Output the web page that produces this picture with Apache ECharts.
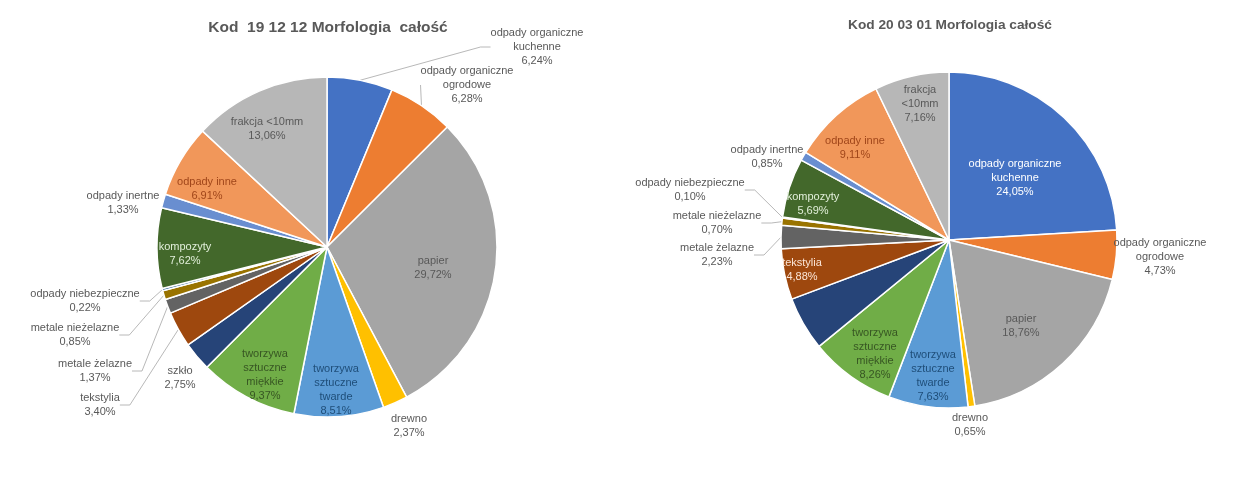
<!DOCTYPE html>
<html>
<head>
<meta charset="utf-8">
<script src="https://cdn.jsdelivr.net/npm/echarts@6/dist/echarts.min.js"></script>
<style>html,body{margin:0;padding:0;background:#fff}#c{width:1247px;height:481px}</style>
</head>
<body>
<div id="c"></div>
<script>
// ---- data ----
const categories = ['odpady organiczne kuchenne','odpady organiczne ogrodowe','papier','drewno',
  'tworzywa sztuczne twarde','tworzywa sztuczne miękkie','szkło','tekstylia','metale żelazne',
  'metale nieżelazne','odpady niebezpieczne','kompozyty','odpady inertne','odpady inne','frakcja <10mm'];
const values191212 = [6.24,6.28,29.72,2.37,8.51,9.37,2.75,3.40,1.37,0.85,0.22,7.62,1.33,6.91,13.06];
const values200301 = [24.05,4.73,18.76,0.65,7.63,8.26,5.20,4.88,2.23,0.70,0.10,5.69,0.85,9.11,7.16];
const titles = ['Kod  19 12 12 Morfologia  całość','Kod 20 03 01 Morfologia całość'];

// ---- styles / layout ----
const colors = ['#4472C4','#ED7D31','#A5A5A5','#FFC000','#5B9BD5','#70AD47','#264478','#9E480E',
  '#636363','#997300','#255E91','#43682B','#698ED0','#F1975A','#B7B7B7'];
const G = '#595959';
// per chart label config: [x, y, showLine, textColor, wrap]  (wrap: 0 none, 1 last space, 2 all spaces)
const leftLabels = [
  [537,47,true,G,1],[467,85,true,G,1],[433,268,false,G,0],[409,426,false,G,0],
  [336,390,false,'#1F4E79',2],[265,375,false,'#375623',2],[180,378,false,G,0],[100,405,true,G,0],
  [95,371,true,G,0],[75,335,true,G,0],[85,301,true,G,0],[185,254,false,'#E2EFDA',0],
  [123,203,false,G,0],[207,189,false,'#A0461A',0],[267,129,false,G,0]];
const rightLabels = [
  [1015,178,false,'#FFFFFF',1],[1160,257,false,G,1],[1021,326,false,G,0],[970,425,false,G,0],
  [933,376,false,'#1F4E79',2],[875,354,false,'#375623',2],null,[802,270,false,'#FBE5D6',0],
  [717,255,true,G,0],[717,223,true,G,0],[690,190,true,G,0],[813,204,false,'#E2EFDA',0],
  [767,157,false,G,0],[855,148,false,'#A0461A',0],[920,104,false,G,2]];

function wrapName(n, mode){
  if (mode === 2) return n.split(' ').join('\n');
  if (mode === 1){ const i = n.lastIndexOf(' '); return n.slice(0,i) + '\n' + n.slice(i+1); }
  return n;
}
function fmt(v){ return v.toFixed(2).replace('.', ',') + '%'; }

function buildData(values, cfg){
  return values.map((v,i) => {
    const c = cfg[i];
    const item = { name: categories[i], value: v, itemStyle: { color: colors[i] } };
    if (!c){ item.label = { show:false }; item.labelLine = { show:false }; return item; }
    item.label = { show:true, position: c[2] ? 'outside' : 'inside', color: c[3],
      formatter: wrapName(categories[i], c[4]) + '\n' + fmt(v) };
    item.labelLine = { show: c[2] };
    return item;
  });
}
const cfgs = [leftLabels, rightLabels];
function layoutFor(si){
  return function(p){
    const c = cfgs[si][p.dataIndex];
    if (!c) return {};
    return { x: c[0], y: c[1], align:'center', verticalAlign:'middle' };
  };
}

const font = '"Liberation Sans", Arial, sans-serif';
const baseSeries = {
  type:'pie', startAngle:90, clockwise:true, avoidLabelOverlap:false,
  itemStyle:{ borderColor:'#fff', borderWidth:1.5 },
  label:{ fontSize:11, lineHeight:14, fontFamily:font, align:'center' },
  labelLine:{ lineStyle:{ color:'#A6A6A6', width:0.8 }, length:10, length2:10 },
  emphasis:{ disabled:true }, animation:false
};

const chart = echarts.init(document.getElementById('c'));
chart.setOption({
  animation:false,
  title:[
    { text:titles[0], left:327, top:15, textAlign:'center',
      textStyle:{ fontSize:15.5, fontWeight:'bold', color:G, fontFamily:font } },
    { text:titles[1], left:950, top:13, textAlign:'center',
      textStyle:{ fontSize:13.7, fontWeight:'bold', color:G, fontFamily:font } }
  ],
  series:[
    Object.assign({}, baseSeries, { center:[327,247], radius:170,
      data: buildData(values191212, leftLabels), labelLayout: layoutFor(0) }),
    Object.assign({}, baseSeries, { center:[949,240], radius:168,
      data: buildData(values200301, rightLabels), labelLayout: layoutFor(1) })
  ]
});
// nudge titles to match reference centring
chart.setOption({ title:[ { left:323 }, { left:945 } ] });
</script>
</body>
</html>
